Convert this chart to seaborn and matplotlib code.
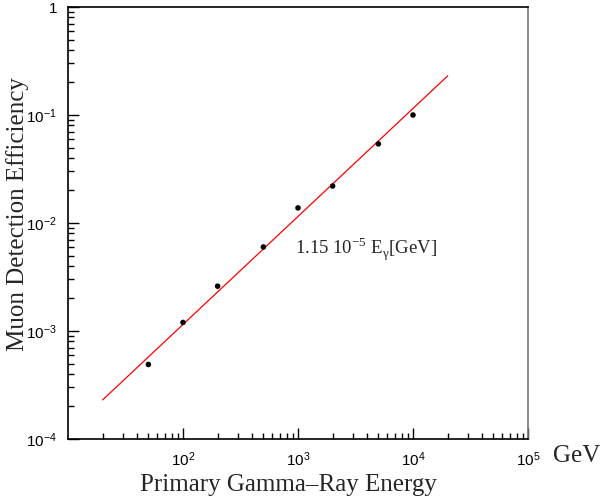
import numpy as np
import pandas as pd
import matplotlib
matplotlib.use("Agg")
import matplotlib.pyplot as plt
import seaborn as sns
from matplotlib.ticker import FixedLocator, FixedFormatter, NullFormatter

# measured efficiencies
energy = [50, 100, 200, 500, 1000, 2000, 5000, 10000]
efficiency = [4.9e-4, 1.2e-3, 2.6e-3, 6.0e-3, 1.38e-2, 2.2e-2, 5.4e-2, 1.0e-1]

# fit line 1.15e-5 * E, drawn between its end points
fit_energy = [20, 20000]
fit_eff = [2.3e-4, 0.23]

xticks = [1e2, 1e3, 1e4, 1e5]
xticklabels = [r"$\mathdefault{10^{2}}$", r"$\mathdefault{10^{3}}$",
               r"$\mathdefault{10^{4}}$", r"$\mathdefault{10^{5}}$"]
yticks = [1e-4, 1e-3, 1e-2, 1e-1, 1]
yticklabels = [r"$\mathdefault{10^{-4}}$", r"$\mathdefault{10^{-3}}$",
               r"$\mathdefault{10^{-2}}$", r"$\mathdefault{10^{-1}}$", "1"]

sns.set_style("ticks")
plt.rcParams["font.family"] = ["Liberation Serif", "DejaVu Serif"]

fig = plt.figure(figsize=(6.05, 5.04), dpi=100)
ax = fig.add_axes([68 / 605, 1 - 439 / 504, 460 / 605, 432 / 504])

pts = pd.DataFrame({"E": energy, "eff": efficiency})
fit = pd.DataFrame({"E": fit_energy, "eff": fit_eff})

sns.lineplot(data=fit, x="E", y="eff", ax=ax, color="red", linewidth=0.9)
sns.scatterplot(data=pts, x="E", y="eff", ax=ax, color="black", s=16,
                edgecolor="none", zorder=3)

ax.set_xscale("log")
ax.set_yscale("log")
ax.set_xlim(10, 1e5)
ax.set_ylim(1e-4, 1)

ax.xaxis.set_major_locator(FixedLocator(xticks))
ax.xaxis.set_major_formatter(FixedFormatter(xticklabels))
ax.yaxis.set_major_locator(FixedLocator(yticks))
ax.yaxis.set_major_formatter(FixedFormatter(yticklabels))
ax.xaxis.set_minor_formatter(NullFormatter())
ax.yaxis.set_minor_formatter(NullFormatter())

ax.tick_params(which="both", direction="in", top=False, right=False,
               colors="black", width=1)
ax.tick_params(which="major", length=8, labelsize=11, pad=8)
ax.tick_params(which="minor", length=4)
for lab in ax.get_xticklabels() + ax.get_yticklabels():
    lab.set_fontfamily("Liberation Sans")

for sp in ax.spines.values():
    sp.set_linewidth(1.2)
    sp.set_color("black")
ax.spines["right"].set_color("#777777")

ax.set_xlabel("Primary Gamma\u2013Ray Energy", fontsize=18, labelpad=4)
ax.xaxis.label.set_x(0.48)
ax.set_ylabel("Muon Detection Efficiency", fontsize=18)
ax.yaxis.set_label_coords(-0.085, 0.52)
ax.text(1.055, -0.04, "GeV", transform=ax.transAxes, fontsize=18,
        ha="left", va="center")

ax.text(940, 5.06e-3, "1.15 10$^{\\mathdefault{-5}}$ E$_{\\mathdefault{\u03b3}}$[GeV]",
        fontsize=13.5, ha="left", va="baseline")

fig.savefig("out.png", dpi=100)
